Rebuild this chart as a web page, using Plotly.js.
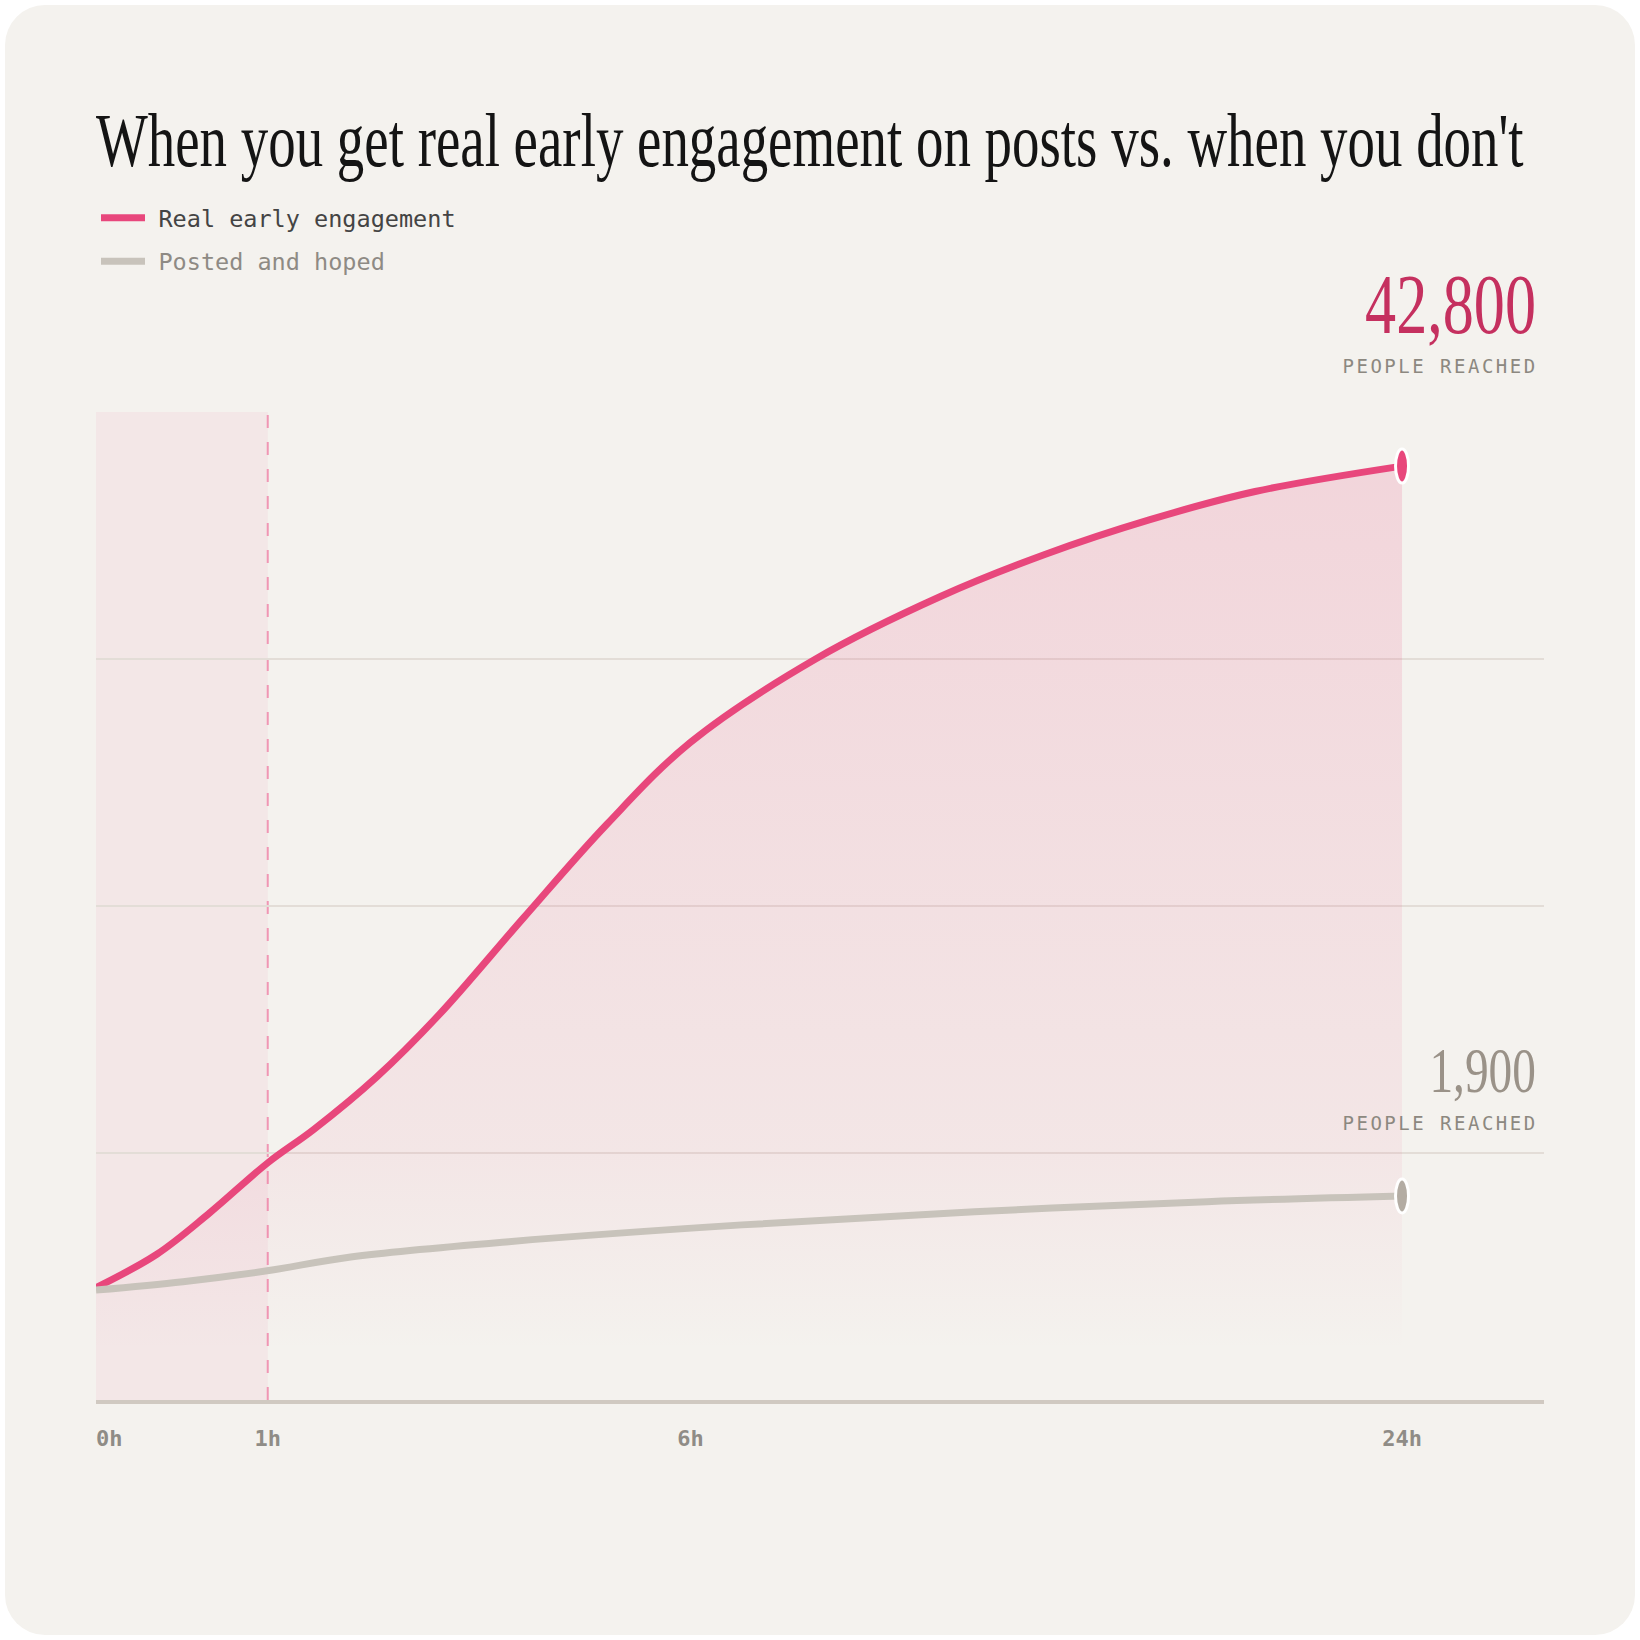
<!DOCTYPE html>
<html>
<head>
<meta charset="utf-8">
<script src="https://cdn.plot.ly/plotly-3.0.1.min.js"></script>
<style>
  html, body { margin: 0; padding: 0; background: #ffffff; }
  #card { position: absolute; left: 5px; top: 5px; width: 1630px; height: 1630px;
          background: #f4f2ee; border-radius: 40px; }
  #chart { position: absolute; left: 0; top: 0; width: 1640px; height: 1640px; }
  g.annotation[data-index="1"] text, g.annotation[data-index="3"] text { letter-spacing: 2.5px; }
</style>
</head>
<body>
<div id="card"></div>
<div id="chart"></div>
<script>
// ---- data ----
// x: position along the drawn 0h–24h timeline (0 = posting time, 1 = 24h)
const timeTickPos    = [0, 0.1315, 0.4552, 1];
const timeTickLabels = ['0h', '1h', '6h', '24h'];

// y: relative reach index (gridlines at 1, 2, 3; top of chart 4)
const engagedX = [0, 0.0466, 0.0867, 0.1315, 0.1667, 0.2148, 0.2629, 0.327, 0.391, 0.455, 0.551, 0.647, 0.727, 0.807, 0.8875, 1.0];
const engagedY = [0.455, 0.590, 0.756, 0.960, 1.095, 1.307, 1.561, 1.950, 2.330, 2.662, 3.000, 3.254, 3.424, 3.564, 3.678, 3.781];

const hopedX = [0, 0.0666, 0.131, 0.195, 0.316, 0.4945, 0.6727, 0.8507, 1.0];
const hopedY = [0.445, 0.479, 0.523, 0.579, 0.641, 0.709, 0.762, 0.803, 0.826];

const seriesNames  = ['Real early engagement', 'Posted and hoped'];
const finalReach   = ['42,800', '1,900'];
const reachCaption = 'PEOPLE REACHED';
const titleText    = "When you get real early engagement on posts vs. when you don't";
const earlyWindowEnd = timeTickPos[1]; // the 1h mark

// ---- styles ----
const PINK = '#e8477c', GRAY = '#c8c3bb';
const MONO = '"DejaVu Sans Mono", "Liberation Mono", monospace';
const SERIF = '"Liberation Serif", "DejaVu Serif", serif';
const GAP = '<span style="font-size:14px">\u00a0</span>';

const lastE = engagedX.length - 1, lastH = hopedX.length - 1;

const traces = [
  { // gradient fill under the engaged curve
    x: engagedX, y: engagedY, type: 'scatter', mode: 'none',
    fill: 'tozeroy', line: { shape: 'spline', smoothing: 1, width: 0 },
    fillgradient: { type: 'vertical', start: 0.2, stop: 3.8,
      colorscale: [[0, 'rgba(232,71,124,0)'], [0.22, 'rgba(232,71,124,0.07)'], [1, 'rgba(232,71,124,0.17)']] },
    showlegend: false, hoverinfo: 'skip'
  },
  {
    x: engagedX, y: engagedY, type: 'scatter', mode: 'lines',
    name: GAP + seriesNames[0],
    line: { color: PINK, width: 7, shape: 'spline', smoothing: 1 },
    legendgroup: 'a', legendrank: 1
  },
  {
    x: hopedX, y: hopedY, type: 'scatter', mode: 'lines',
    name: GAP + '<span style="color:#8e8a84">' + seriesNames[1] + '</span>',
    line: { color: GRAY, width: 7, shape: 'spline', smoothing: 1 },
    legendgroup: 'b', legendrank: 2
  }
];

const layout = {
  width: 1640, height: 1640,
  paper_bgcolor: 'rgba(0,0,0,0)', plot_bgcolor: 'rgba(0,0,0,0)',
  margin: { l: 96, r: 96, t: 412, b: 240, pad: 0, autoexpand: false },
  title: {
    text: titleText, xref: 'container', yref: 'container',
    x: 96 / 1640, xanchor: 'left', y: 1 - 166 / 1640, yanchor: 'bottom',
    font: { family: SERIF, size: 76, color: '#141414' }
  },
  showlegend: true,
  legend: {
    xref: 'container', yref: 'container', x: 96 / 1640, y: 1 - 196 / 1640,
    xanchor: 'left', yanchor: 'top', orientation: 'v',
    traceorder: 'grouped', tracegroupgap: 10, itemwidth: 44,
    bgcolor: 'rgba(0,0,0,0)', font: { family: MONO, size: 23.5, color: '#444444' }
  },
  xaxis: {
    range: [0, 1.1087], fixedrange: true,
    showgrid: false, zeroline: false,
    showline: true, linecolor: '#d0c9c1', linewidth: 4,
    tickmode: 'array', tickvals: timeTickPos,
    ticktext: timeTickLabels.map((t, i) => i === 0 ? '\u00a0\u00a0' + t : t),
    ticks: '', ticklabelstandoff: 16,
    tickfont: { family: MONO, size: 22, color: '#8f8c86', weight: 'bold' }
  },
  yaxis: {
    range: [0, 4], fixedrange: true,
    showgrid: true, gridcolor: '#e3ddd7', gridwidth: 2,
    tickmode: 'array', tickvals: [1, 2, 3], showticklabels: false,
    zeroline: false, showline: false, ticks: ''
  },
  shapes: [
    { type: 'rect', layer: 'below', xref: 'x', yref: 'y',
      x0: 0, x1: earlyWindowEnd, y0: 0, y1: 4,
      fillcolor: 'rgba(232,71,124,0.06)', line: { width: 0 } },
    { type: 'line', layer: 'below', xref: 'x', yref: 'y',
      x0: earlyWindowEnd, x1: earlyWindowEnd, y0: 0, y1: 4,
      line: { color: '#f096b4', width: 2, dash: '13px,14px' } },
    { type: 'circle', layer: 'above', xref: 'x', yref: 'y',
      xsizemode: 'pixel', ysizemode: 'pixel',
      xanchor: engagedX[lastE], yanchor: engagedY[lastE],
      x0: -6.5, x1: 6.5, y0: -17, y1: 17,
      fillcolor: PINK, line: { color: '#ffffff', width: 3 } },
    { type: 'circle', layer: 'above', xref: 'x', yref: 'y',
      xsizemode: 'pixel', ysizemode: 'pixel',
      xanchor: hopedX[lastH], yanchor: hopedY[lastH],
      x0: -6.5, x1: 6.5, y0: -17, y1: 17,
      fillcolor: '#b3aca3', line: { color: '#ffffff', width: 3 } }
  ],
  annotations: [
    { text: finalReach[0], xref: 'paper', yref: 'paper', x: 0.9959, y: 1.1083,
      xanchor: 'right', yanchor: 'middle', showarrow: false,
      font: { family: SERIF, size: 84, color: '#c5305f' } },
    { text: reachCaption, xref: 'paper', yref: 'paper', x: 0.9848, y: 1.0466,
      xanchor: 'right', yanchor: 'middle', showarrow: false,
      font: { family: MONO, size: 19, color: '#8c8880' } },
    { text: finalReach[1], xref: 'paper', yref: 'paper', x: 0.9959, y: 0.334,
      xanchor: 'right', yanchor: 'middle', showarrow: false,
      font: { family: SERIF, size: 64, color: '#9a9288' } },
    { text: reachCaption, xref: 'paper', yref: 'paper', x: 0.9848, y: 0.2804,
      xanchor: 'right', yanchor: 'middle', showarrow: false,
      font: { family: MONO, size: 19, color: '#8c8880' } }
  ]
};

Plotly.newPlot('chart', traces, layout, { staticPlot: true, displayModeBar: false }).then(() => {
  // condensed serif look: squeeze the serif texts horizontally
  const t = document.querySelector('.gtitle');
  if (t) {
    const w = t.getBBox().width;
    t.style.transformBox = 'fill-box';
    t.style.transformOrigin = 'left center';
    t.style.transform = 'scaleX(' + (1428 / w) + ')';
  }
  ['0', '2'].forEach(i => {
    const el = document.querySelector('g.annotation[data-index="' + i + '"] text');
    if (el) {
      el.style.transformBox = 'fill-box';
      el.style.transformOrigin = 'right center';
      el.style.transform = 'scaleX(0.74)';
    }
  });
});
</script>
</body>
</html>
